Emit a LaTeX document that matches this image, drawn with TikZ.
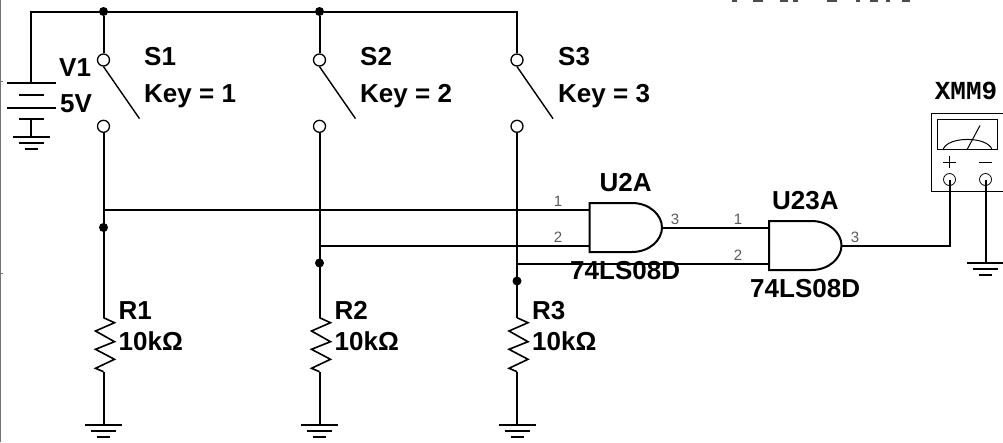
\documentclass[tikz,border=0pt]{standalone}
\usepackage{fontspec}
\setmainfont{Liberation Sans}
\newfontfamily\monofam{Liberation Mono}
\usetikzlibrary{positioning}
\tikzstyle{wire} = [draw,line width=2pt,line join=miter]
\tikzstyle{thin wire} = [draw,line width=1pt]
\tikzstyle{pad} = [draw,line width=1.3pt,circle,fill=white,inner sep=0,minimum size=12pt]
\tikzstyle{port} = [draw,line width=0.8pt,circle,inner sep=0,minimum size=12pt]
\tikzstyle{dot} = [fill,circle,inner sep=0,minimum size=9pt]
\tikzstyle{tag} = [inner sep=0,anchor=base west,font=\fontsize{26}{28}\selectfont\bfseries]
\tikzstyle{pin} = [inner sep=0,anchor=base,text=black!65,font=\fontsize{15}{16}\selectfont]
\def \gap {53pt}
% ground symbol under a named coordinate
\newcommand{\gnd}[1]{
  \draw[wire] ([xshift=-18.5pt]#1) -- ([xshift=18.5pt]#1);
  \draw[wire] ([xshift=-12.5pt,yshift=-6pt]#1) -- ([xshift=12.5pt,yshift=-6pt]#1);
  \draw[wire] ([xshift=-6.5pt,yshift=-12pt]#1) -- ([xshift=6.5pt,yshift=-12pt]#1);
}
% zigzag from a named coordinate, then the end coordinate #2
\newcommand{\resistor}[2]{
  \draw[wire,line width=1.6pt] (#1) -- ++(11,5) -- ++(-19,8.3) -- ++(19,10.7) -- ++(-19,7.6) -- ++(19,10) -- ++(-19,9) -- ++(8,3.4) coordinate (#2);
}
% and gate, #1 name, (#2,#3) upper left corner
\newcommand{\andgate}[3]{
  \coordinate (#1a) at (#2,#3+6.5);
  \coordinate (#1b) at (#2,#3+42.5);
  \coordinate (#1y) at (#2+72.5,#3+24.5);
  \draw[wire] (#2,#3) -- (#2+42.5,#3) .. controls (#2+60,#3) and (#2+72.5,#3+12) .. (#1y)
    .. controls (#2+72.5,#3+37) and (#2+60,#3+49) .. (#2+42.5,#3+49) -- (#2,#3+49) -- cycle;
}

\begin{document}
\begin{tikzpicture}[x=1pt,y=-1pt,node distance=\gap]
      \useasboundingbox (0,0) rectangle (1003,442);
      % left page edge
      \draw[black!55,line width=1.6pt] (0.5,0) -- (0.5,442);
      \draw[black!55,line width=0.6pt] (0,81) -- (3,81);
      \draw[black!55,line width=0.6pt] (0,273) -- (3,273);
      % rest of a line cut off by the top of the picture
      \foreach \a/\b in {732/737,753/763,780/788,793/798,827/837,856/860,870/878,886/890,902/910}
        \fill[black!70] (\a,0) rectangle (\b,2);

      % switches
      \node[pad] (s1t) at (103.5,60) {};
      \node[pad,below=of s1t] (s1b) {};
      \node[pad] (s2t) at (319.5,60) {};
      \node[pad,below=of s2t] (s2b) {};
      \node[pad] (s3t) at (517,60) {};
      \node[pad,below=of s3t] (s3b) {};
      \draw[wire,line width=1.4pt] (s1t.south) -- +(36,52);
      \draw[wire,line width=1.4pt] (s2t.south) -- +(36,52);
      \draw[wire,line width=1.4pt] (s3t.south) -- +(36,52);
      \node[tag] (s1name) at (144,65.5) {S1};
      \node[tag] (s1key) at (144,102) {Key = 1};
      \node[tag] (s2name) at (360,65.5) {S2};
      \node[tag] (s2key) at (360,102) {Key = 2};
      \node[tag] (s3name) at (558,65.5) {S3};
      \node[tag] (s3key) at (558,102) {Key = 3};

      % battery
      \coordinate (v1p) at (31,83);
      \coordinate (v1n) at (31,119);
      \coordinate (v1g) at (31,137);
      \draw[wire] (7,83) -- (56,83);
      \draw[wire] (19,95) -- (44,95);
      \draw[wire] (7,107.5) -- (56,107.5);
      \draw[wire] (19,119) -- (44,119);
      \draw[wire] (v1n) -- (v1g);
      \gnd{v1g}
      \node[tag] (v1name) at (59,76.5) {V1};
      \node[tag] (v1val) at (60,112) {5V};

      % supply rail
      \node[dot] (j1) at (103.5,11.5) {};
      \node[dot] (j2) at (319.5,11.5) {};
      \draw[wire] (v1p) |- (j1.center) -- (j2.center) -| (s3t.north);
      \draw[wire] (j1) -- (s1t);
      \draw[wire] (j2) -- (s2t);

      % resistors to ground
      \coordinate (r1t) at (103.5,317.7);
      \coordinate (r2t) at (319.5,317.7);
      \coordinate (r3t) at (517,317.7);
      \node[dot] (j3) at (103.5,227.5) {};
      \node[dot] (j4) at (319.5,263) {};
      \node[dot] (j5) at (517,281) {};
      \resistor{r1t}{r1e}
      \resistor{r2t}{r2e}
      \resistor{r3t}{r3e}
      \draw[wire] (s1b) -- (r1t);
      \draw[wire] (s2b) -- (r2t);
      \draw[wire] (s3b) -- (r3t);
      \coordinate (g1) at (103.5,425.3);
      \coordinate (g2) at (319.5,425.3);
      \coordinate (g3) at (517,425.3);
      \draw[wire] (r1e) -- (g1);
      \draw[wire] (r2e) -- (g2);
      \draw[wire] (r3e) -- (g3);
      \gnd{g1}
      \gnd{g2}
      \gnd{g3}
      \node[tag] (r1name) at (118.5,319) {R1};
      \node[tag] (r1val) at (118.5,350.5) {10kΩ};
      \node[tag] (r2name) at (334.5,319) {R2};
      \node[tag] (r2val) at (334.5,350.5) {10kΩ};
      \node[tag] (r3name) at (532,319) {R3};
      \node[tag] (r3val) at (532,350.5) {10kΩ};

      % gates
      \andgate{u2}{589.5}{203}
      \andgate{u23}{769}{221}
      \coordinate (k1) at (103.5,209.5);
      \coordinate (k2) at (319.5,245.5);
      \coordinate (k3) at (517,263.5);
      \draw[wire] (k1) -- (u2a);
      \draw[wire] (k2) -- (u2b);
      \draw[wire] (k3) -- (u23b);
      \draw[wire] (u2y) -- (u23a);
      \node[pin] (p1) at (558,206) {1};
      \node[pin] (p2) at (558,242) {2};
      \node[pin] (p3) at (675,224) {3};
      \node[pin] (p4) at (738,224) {1};
      \node[pin] (p5) at (738,260) {2};
      \node[pin] (p6) at (855,242) {3};
      \node[tag] (u2name) at (599.5,191) {U2A};
      \node[tag] (u2type) at (570,279) {74LS08D};
      \node[tag] (u23name) at (772,209.3) {U23A};
      \node[tag] (u23type) at (750,297) {74LS08D};

      % meter
      \node[thin wire,inner sep=0,minimum width=90pt,minimum height=78.5pt] (xmm) at (976.7,152.5) {};
      \node[thin wire,inner sep=0,minimum width=60pt,minimum height=30.4pt] (face) at (967.7,134.5) {};
      \draw[thin wire] (943,149.7) .. controls (947,136) and (988,136) .. (992,149.7);
      \draw[thin wire] (967,149.7) -- (980,125.5);
      \node[port] (xp) at (949.5,179.5) {};
      \node[port] (xn) at (985.5,179.5) {};
      \draw[thin wire] (943,162) -- (956,162);
      \draw[thin wire] (949.5,156) -- (949.5,168);
      \draw[thin wire] (979,162) -- (992,162);
      \node[inner sep=0,anchor=base,font=\fontsize{26}{28}\selectfont\monofam\bfseries] (xmmname) at (966,99) {XMM9};
      \coordinate (g4) at (985.5,263);
      \draw[wire] (u23y) -| (xp.center);
      \draw[wire] (xn.center) -- (g4);
      \gnd{g4}
    \end{tikzpicture}
\end{document}
